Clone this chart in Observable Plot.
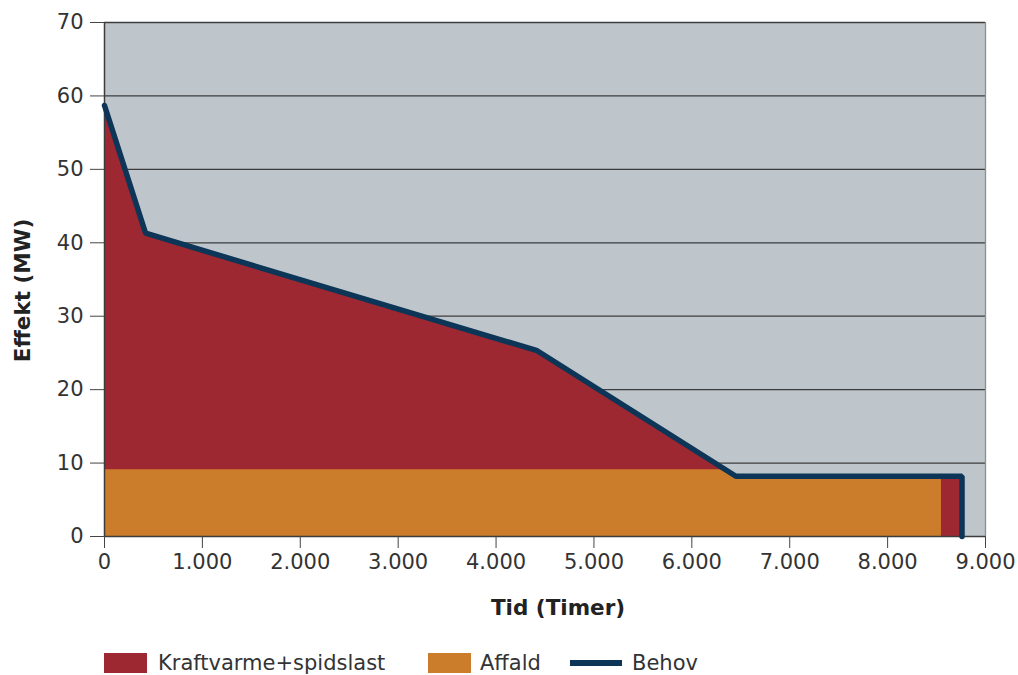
<!DOCTYPE html>
<html>
<head>
<meta charset="utf-8">
<script src="https://cdn.jsdelivr.net/npm/d3@7"></script>
<script src="https://cdn.jsdelivr.net/npm/@observablehq/plot@0.6"></script>
<style>
  body { margin: 0; background: #fff; font-family: "DejaVu Sans", sans-serif; }
  #wrap { position: relative; width: 1018px; height: 675px; }
  .leg { position: absolute; top: 651px; font-size: 21px; color: #333; line-height: 24px; white-space: nowrap; }
  .sw { position: absolute; }
</style>
</head>
<body>
<div id="wrap">
  <div id="chart"></div>
  <div class="sw" style="left:104px; top:653px; width:43px; height:20px; background:#9e2832;"></div>
  <div class="leg" style="left:158px;">Kraftvarme+spidslast</div>
  <div class="sw" style="left:428px; top:653px; width:43px; height:20px; background:#cc7d2b;"></div>
  <div class="leg" style="left:480px;">Affald</div>
  <div class="sw" style="left:570px; top:660px; width:52px; height:6px; background:#0c3557;"></div>
  <div class="leg" style="left:632px;">Behov</div>
</div>
<script>
// Varighedskurve for varmebehov (timer pr. år, MW)
const behovTimer = [0, 420, 4420, 6450, 8760, 8760];
const behovMW = [58.7, 41.3, 25.3, 8.2, 8.2, 0];

// Affaldsforbrænding dækker grundlasten
const affaldTimer = [0, 6340, 6450, 8550];
const affaldMW = [9.1, 9.1, 8.2, 8.2];

const xTicks = [0, 1000, 2000, 3000, 4000, 5000, 6000, 7000, 8000, 9000];
const yTicks = [0, 10, 20, 30, 40, 50, 60, 70];
const gridLevels = [10, 20, 30, 40, 50, 60, 70];

const behov = behovTimer.map((t, i) => ({t, mw: behovMW[i]}));
const affald = affaldTimer.map((t, i) => ({t, mw: affaldMW[i]}));

const dk = d3.formatLocale({decimal: ",", thousands: ".", grouping: [3], currency: ["", " kr."]});
const fmt = dk.format(",d");

const chart = Plot.plot({
  width: 1018,
  height: 630,
  marginLeft: 104,
  marginRight: 33,
  marginTop: 22,
  marginBottom: 94,
  style: {fontFamily: "DejaVu Sans, sans-serif", fontSize: "21px", color: "#333", background: "transparent"},
  x: {domain: [0, 9000]},
  y: {domain: [0, 70]},
  marks: [
    Plot.frame({fill: "#bec6cb", stroke: null}),
    Plot.ruleY(gridLevels, {stroke: "#3c3c3c", strokeWidth: 1.3}),
    Plot.ruleX([9000], {stroke: "#8a8f92", strokeWidth: 1.3}),
    Plot.areaY(behov, {x: "t", y: "mw", fill: "#9e2832"}),
    Plot.areaY(affald, {x: "t", y: "mw", fill: "#cc7d2b"}),
    Plot.ruleY([0], {stroke: "#3c3c3c", strokeWidth: 1.5}),
    Plot.ruleX([0], {stroke: "#3c3c3c", strokeWidth: 1.5}),
    Plot.line(behov, {x: "t", y: "mw", stroke: "#0c3557", strokeWidth: 5.5, strokeLinejoin: "miter"}),
    Plot.axisX({ticks: xTicks, tickFormat: fmt, tickSize: 12, tickPadding: 6, stroke: "#444", label: null, fill: "#333", fontSize: 21}),
    Plot.axisY({ticks: yTicks, tickSize: 14, tickPadding: 7, stroke: "#444", label: null, fill: "#333", fontSize: 21}),
    Plot.text(["Tid (Timer)"], {frameAnchor: "bottom", dx: 13, dy: 78, fontWeight: "bold", fontSize: 21.5, fill: "#222"}),
    Plot.text(["Effekt (MW)"], {frameAnchor: "left", textAnchor: "middle", dx: -81, dy: 11, rotate: -90, fontWeight: "bold", fontSize: 21.5, fill: "#222"})
  ]
});
document.getElementById("chart").appendChild(chart);
</script>
</body>
</html>
